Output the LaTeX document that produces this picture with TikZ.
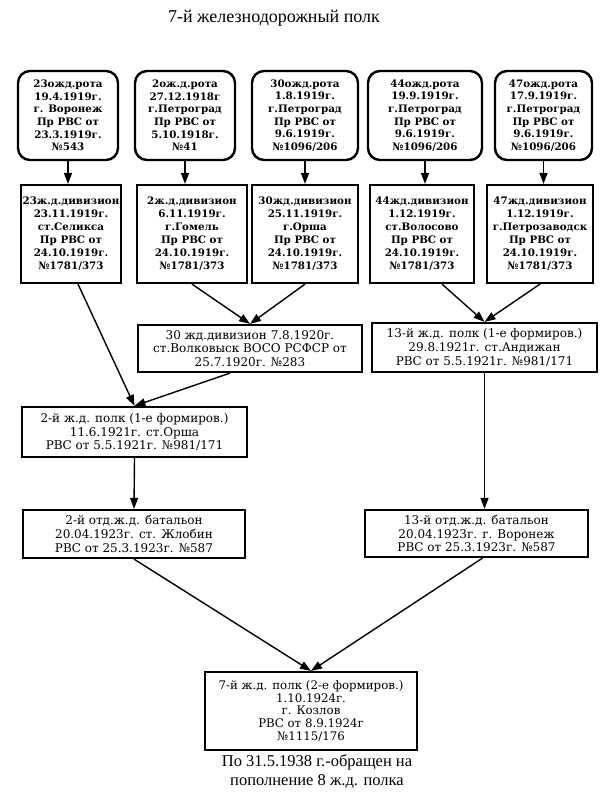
\documentclass[tikz,border=0pt]{standalone}
\usepackage{fontspec}
\setmainfont{Liberation Serif}
\newfontfamily\boxfont{DejaVu Serif}
\usetikzlibrary{arrows.meta, positioning}

\tikzset{
  rbox/.style={draw, line width=2.4pt, rounded corners=12pt, align=center,
    minimum width=100pt, minimum height=89pt, inner sep=2pt,
    font=\boxfont\bfseries\fontsize{10.3}{12.6}\selectfont},
  sbox/.style={draw, line width=2.2pt, align=center, minimum width=100pt,
    minimum height=98pt, inner sep=2pt,
    font=\boxfont\bfseries\fontsize{10.3}{13}\selectfont},
  wbox/.style={draw, line width=2.2pt, align=center, inner sep=2pt,
    font=\boxfont\fontsize{12}{13.8}\selectfont},
  arr/.style={line width=1.4pt, -{Triangle[length=11pt,width=8pt]}},
}

\begin{document}
\begin{tikzpicture}[x=1pt, y=-1pt]
\useasboundingbox (0,0) rectangle (610,800);
\node[font=\fontsize{18}{21}\selectfont] (title) at (274,18) {7-й железнодорожный полк};

% roty
\node[rbox] (r23) at (68,115.5) {23ожд.рота\\19.4.1919г.\\г. Воронеж\\Пр РВС от\\23.3.1919г.\\№543};
\node[rbox] (r2) at (185,115.5) {2ож.д.рота\\27.12.1918г\\г.Петроград\\Пр РВС от\\5.10.1918г.\\№41};
\node[rbox, minimum width=106pt] (r30) at (305,115.5) {30ожд.рота\\1.8.1919г.\\г.Петроград\\Пр РВС от\\9.6.1919г.\\№1096/206};
\node[rbox, minimum width=114pt] (r44) at (425,115.5) {44ожд.рота\\19.9.1919г.\\г.Петроград\\Пр РВС от\\9.6.1919г.\\№1096/206};
\node[rbox, minimum width=97pt] (r47) at (543.5,115.5) {47ожд.рота\\17.9.1919г.\\г.Петроград\\Пр РВС от\\9.6.1919г.\\№1096/206};

% diviziony
\node[sbox] (d23) at (71,234) {23ж.д.дивизион\\23.11.1919г.\\ст.Селикса\\Пр РВС от\\24.10.1919г.\\№1781/373};
\node[sbox, minimum width=110pt] (d2) at (192,234) {2ж.д.дивизион\\6.11.1919г.\\г.Гомель\\Пр РВС от\\24.10.1919г.\\№1781/373};
\node[sbox, minimum width=106pt] (d30) at (305,234) {30жд.дивизион\\25.11.1919г.\\г.Орша\\Пр РВС от\\24.10.1919г.\\№1781/373};
\node[sbox, minimum width=104pt] (d44) at (422,234) {44жд.дивизион\\1.12.1919г.\\ст.Волосово\\Пр РВС от\\24.10.1919г.\\№1781/373};
\node[sbox, minimum width=106pt] (d47) at (540,234) {47жд.дивизион\\1.12.1919г.\\г.Петрозаводск\\Пр РВС от\\24.10.1919г.\\№1781/373};

% polki
\node[wbox, minimum width=224pt, minimum height=47pt] (v30) at (250,348.5) {30 жд.дивизион 7.8.1920г.\\ст.Волковыск ВОСО РСФСР от\\25.7.1920г. №283};
\node[wbox, minimum width=225pt, minimum height=49pt] (p13) at (484.5,347.5) {13-й ж.д. полк (1-е формиров.)\\29.8.1921г. ст.Андижан\\РВС от 5.5.1921г. №981/171};
\node[wbox, minimum width=225pt, minimum height=50pt] (p2) at (134.5,432) {2-й ж.д. полк (1-е формиров.)\\11.6.1921г. ст.Орша\\РВС от 5.5.1921г. №981/171};

% bataliony
\node[wbox, minimum width=222pt, minimum height=48pt] (b2) at (134,534) {2-й отд.ж.д. батальон\\20.04.1923г. ст. Жлобин\\РВС от 25.3.1923г. №587};
\node[wbox, minimum width=223pt, minimum height=47pt] (b13) at (476.5,533.5) {13-й отд.ж.д. батальон\\20.04.1923г. г. Воронеж\\РВС от 25.3.1923г. №587};

\node[wbox, minimum width=212pt, minimum height=78pt, font=\boxfont\fontsize{11.8}{12.8}\selectfont] (p7) at (311,711) {7-й ж.д. полк (2-е формиров.)\\1.10.1924г.\\г. Козлов\\РВС от 8.9.1924г\\№1115/176};
\node[below=0pt of p7, xshift=6pt, align=center, font=\fontsize{16.5}{19}\selectfont] (note) {По 31.5.1938 г.-обращен на\\пополнение 8 ж.д. полка};

\draw[arr] (r23.south) -- (r23.south |- d23.north);
\draw[arr] (r2.south) -- (r2.south |- d2.north);
\draw[arr] (r30.south) -- (r30.south |- d30.north);
\draw[arr] (r44.south) -- (r44.south |- d44.north);
\draw[arr] (r47.south) -- (r47.south |- d47.north);

\draw[arr] (d2.south) -- (v30.north);
\draw[arr] (d30.south) -- (v30.north);
\draw[arr] ([xshift=20pt]d44.south) -- (p13.north);
\draw[arr] (d47.south) -- (p13.north);
\draw[arr] ([xshift=7pt]d23.south) -- (p2.north);
\draw[arr] ([xshift=-20pt]v30.south) -- (p2.north);

\draw[arr] (p2.south) -- (b2.north);
\draw[arr] (p13.south) -- (p13.south |- b13.north);
\draw[arr] (b2.south) -- (p7.north);
\draw[arr] ([xshift=6pt]b13.south) -- (p7.north);
\end{tikzpicture}
\end{document}
